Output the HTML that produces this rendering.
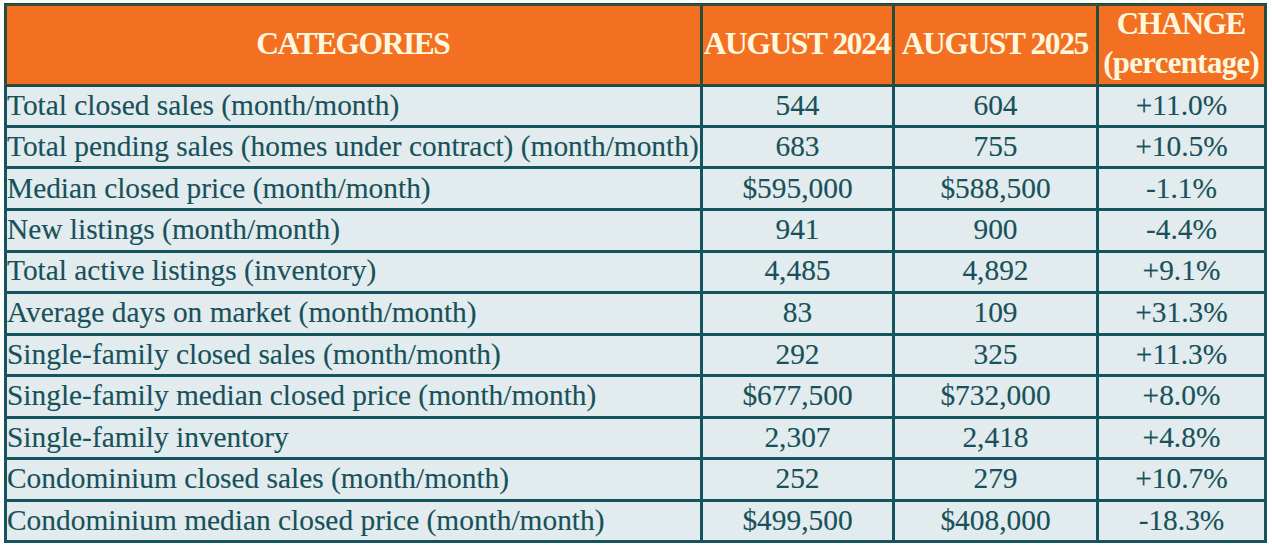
<!DOCTYPE html>
<html><head><meta charset="utf-8"><style>
html,body{margin:0;padding:0;background:#fff;width:1272px;height:546px;overflow:hidden;position:relative}
div{position:absolute}
.t{font-family:"Liberation Serif",serif;font-size:29.4px;color:#18515A;white-space:nowrap;line-height:1;-webkit-text-stroke:0.12px #18515A}
.h{font-family:"Liberation Serif",serif;font-weight:bold;font-size:31.5px;color:#FFF7DE;white-space:nowrap;line-height:1;letter-spacing:-1.9px}
.c{text-align:center}
</style></head><body>
<div style="left:4px;top:3px;width:1263px;height:84px;background:#F37022"></div><div style="left:4px;top:84px;width:1263px;height:459px;background:#E2EBEE"></div><div style="left:4px;top:3px;width:3px;height:540px;background:#14545E"></div><div style="left:4px;top:3px;width:3px;height:84px;background:linear-gradient(90deg,#1E4A3A,#26503E,#2E4A38)"></div><div style="left:700px;top:3px;width:3px;height:540px;background:#14545E"></div><div style="left:700px;top:3px;width:3px;height:84px;background:linear-gradient(90deg,#1E4A3A,#26503E,#2E4A38)"></div><div style="left:892px;top:3px;width:3px;height:540px;background:#14545E"></div><div style="left:892px;top:3px;width:3px;height:84px;background:linear-gradient(90deg,#1E4A3A,#26503E,#2E4A38)"></div><div style="left:1096px;top:3px;width:3px;height:540px;background:#14545E"></div><div style="left:1096px;top:3px;width:3px;height:84px;background:linear-gradient(90deg,#1E4A3A,#26503E,#2E4A38)"></div><div style="left:1264px;top:3px;width:3px;height:540px;background:#14545E"></div><div style="left:1264px;top:3px;width:3px;height:84px;background:linear-gradient(90deg,#1E4A3A,#26503E,#2E4A38)"></div><div style="left:4px;top:125px;width:1263px;height:3px;background:#14545E"></div><div style="left:4px;top:166px;width:1263px;height:3px;background:#14545E"></div><div style="left:4px;top:208px;width:1263px;height:3px;background:#14545E"></div><div style="left:4px;top:250px;width:1263px;height:3px;background:#14545E"></div><div style="left:4px;top:291px;width:1263px;height:3px;background:#14545E"></div><div style="left:4px;top:333px;width:1263px;height:3px;background:#14545E"></div><div style="left:4px;top:374px;width:1263px;height:3px;background:#14545E"></div><div style="left:4px;top:416px;width:1263px;height:3px;background:#14545E"></div><div style="left:4px;top:457px;width:1263px;height:3px;background:#14545E"></div><div style="left:4px;top:499px;width:1263px;height:3px;background:#14545E"></div><div style="left:4px;top:540px;width:1263px;height:3px;background:#14545E"></div><div style="left:4px;top:3px;width:1263px;height:3px;background:linear-gradient(180deg,#154A34 0,#154A34 1px,#2A5840 1px,#2A5840 2px,#404A32 2px)"></div><div style="left:4px;top:84px;width:1263px;height:3px;background:linear-gradient(180deg,#3A4A38 0,#3A4A38 1px,#254A40 1px,#254A40 2px,#1A4A4A 2px)"></div><div class="t" style="left:7px;top:91.00px">Total closed sales (month/month)</div><div class="t c" style="left:703px;top:91.00px;width:189px">544</div><div class="t c" style="left:895px;top:91.00px;width:201px">604</div><div class="t c" style="left:1099px;top:91.00px;width:165px">+11.0%</div><div class="t" style="left:7px;top:132.00px">Total pending sales (homes under contract) (month/month)</div><div class="t c" style="left:703px;top:132.00px;width:189px">683</div><div class="t c" style="left:895px;top:132.00px;width:201px">755</div><div class="t c" style="left:1099px;top:132.00px;width:165px">+10.5%</div><div class="t" style="left:7px;top:174.00px">Median closed price (month/month)</div><div class="t c" style="left:703px;top:174.00px;width:189px">$595,000</div><div class="t c" style="left:895px;top:174.00px;width:201px">$588,500</div><div class="t c" style="left:1099px;top:174.00px;width:165px">-1.1%</div><div class="t" style="left:7px;top:215.00px">New listings (month/month)</div><div class="t c" style="left:703px;top:215.00px;width:189px">941</div><div class="t c" style="left:895px;top:215.00px;width:201px">900</div><div class="t c" style="left:1099px;top:215.00px;width:165px">-4.4%</div><div class="t" style="left:7px;top:256.00px">Total active listings (inventory)</div><div class="t c" style="left:703px;top:256.00px;width:189px">4,485</div><div class="t c" style="left:895px;top:256.00px;width:201px">4,892</div><div class="t c" style="left:1099px;top:256.00px;width:165px">+9.1%</div><div class="t" style="left:7px;top:298.00px">Average days on market (month/month)</div><div class="t c" style="left:703px;top:298.00px;width:189px">83</div><div class="t c" style="left:895px;top:298.00px;width:201px">109</div><div class="t c" style="left:1099px;top:298.00px;width:165px">+31.3%</div><div class="t" style="left:7px;top:340.00px">Single-family closed sales (month/month)</div><div class="t c" style="left:703px;top:340.00px;width:189px">292</div><div class="t c" style="left:895px;top:340.00px;width:201px">325</div><div class="t c" style="left:1099px;top:340.00px;width:165px">+11.3%</div><div class="t" style="left:7px;top:381.00px">Single-family median closed price (month/month)</div><div class="t c" style="left:703px;top:381.00px;width:189px">$677,500</div><div class="t c" style="left:895px;top:381.00px;width:201px">$732,000</div><div class="t c" style="left:1099px;top:381.00px;width:165px">+8.0%</div><div class="t" style="left:7px;top:423.00px">Single-family inventory</div><div class="t c" style="left:703px;top:423.00px;width:189px">2,307</div><div class="t c" style="left:895px;top:423.00px;width:201px">2,418</div><div class="t c" style="left:1099px;top:423.00px;width:165px">+4.8%</div><div class="t" style="left:7px;top:464.00px">Condominium closed sales (month/month)</div><div class="t c" style="left:703px;top:464.00px;width:189px">252</div><div class="t c" style="left:895px;top:464.00px;width:201px">279</div><div class="t c" style="left:1099px;top:464.00px;width:165px">+10.7%</div><div class="t" style="left:7px;top:506.00px">Condominium median closed price (month/month)</div><div class="t c" style="left:703px;top:506.00px;width:189px">$499,500</div><div class="t c" style="left:895px;top:506.00px;width:201px">$408,000</div><div class="t c" style="left:1099px;top:506.00px;width:165px">-18.3%</div><div class="h c" style="left:6.28px;top:27.62px;width:693px;font-size:31.5px;letter-spacing:-1.45px">CATEGORIES</div><div class="h c" style="left:702.30px;top:27.62px;width:189px;font-size:31.5px;letter-spacing:-1.4px">AUGUST 2024</div><div class="h c" style="left:894.30px;top:27.62px;width:201px;font-size:31.5px;letter-spacing:-1.4px">AUGUST 2025</div><div class="h c" style="left:1098.35px;top:8.44px;width:165px;font-size:31.0px;letter-spacing:-1.3px">CHANGE</div><div class="h c" style="left:1098.67px;top:48.20px;width:165px;font-size:30.8px;letter-spacing:-0.65px">(percentage)</div>
</body></html>
